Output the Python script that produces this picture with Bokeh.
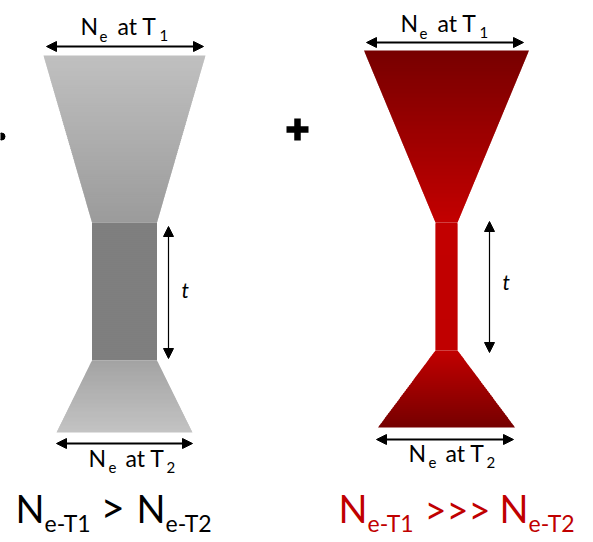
import numpy as np
from bokeh.plotting import figure
from bokeh.models import Range1d, Arrow, NormalHead, ColumnDataSource
from bokeh.core.properties import value
from bokeh.embed import file_html
from bokeh.resources import INLINE

# ---------------- data ----------------
# Two population histories: effective size (width) through time (top -> bottom)
pop_names = ["moderate bottleneck", "severe bottleneck"]
pop_center_x = [124, 446]
grey_level_y = [55, 222, 360, 432]      # T1, start of bottleneck, end of bottleneck, T2
grey_width = [162, 65, 65, 136]         # Ne at each level
red_level_y = [50, 222, 350, 427]
red_width = [165, 22, 22, 137]
grey_colors = [("#c0c0c0", "#9b9b9b"), ("#7f7f7f", "#7f7f7f"), ("#a3a3a3", "#c3c3c3")]
red_colors = [("#770000", "#c30000"), ("#c20000", "#c00000"), ("#c20000", "#760000")]

top_label = ["N", "e", "at T", "1"]
bottom_label = ["N", "e", "at T", "2"]
eq_left = ["N", "e-T1", ">", "N", "e-T2"]
eq_right = ["N", "e-T1", ">>>", "N", "e-T2"]

FONT = "Lato"
SHIFT = 0.42   # baseline correction, in em


def hex2rgb(h):
    h = h.lstrip("#")
    return np.array([int(h[i:i + 2], 16) for i in (0, 2, 4)], dtype=float)


def mix(c0, c1, f):
    a, b = hex2rgb(c0), hex2rgb(c1)
    r = a + (b - a) * f
    return "#%02x%02x%02x" % tuple(int(round(v)) for v in r)


def strips(cx, levels, widths, colors):
    xs, ys, cols = [], [], []
    for k in range(len(levels) - 1):
        y0, y1 = levels[k], levels[k + 1]
        w0, w1 = widths[k], widths[k + 1]
        n = max(2, int(abs(y1 - y0) / 2))
        for i in range(n):
            fa, fb = i / n, (i + 1) / n
            ya, yb = y0 + (y1 - y0) * fa, y0 + (y1 - y0) * fb
            if i < n - 1:
                yb_draw = yb + 1.0
                wb_draw = w0 + (w1 - w0) * min(1.0, fb + 1.0 / abs(y1 - y0))
            else:
                yb_draw = yb
                wb_draw = w0 + (w1 - w0) * fb
            wa = w0 + (w1 - w0) * fa
            xs.append([cx - wa / 2, cx + wa / 2, cx + wb_draw / 2, cx - wb_draw / 2])
            ys.append([ya, ya, yb_draw, yb_draw])
            cols.append(mix(colors[k][0], colors[k][1], (fa + fb) / 2))
    return xs, ys, cols


W, H = 593, 542
p = figure(width=W, height=H, output_backend="svg", toolbar_location=None,
           x_range=Range1d(0, W), y_range=Range1d(H, 0), min_border=0)
p.axis.visible = False
p.grid.visible = False
p.outline_line_color = None
p.background_fill_color = "white"
p.border_fill_color = "white"

for cx, lv, wd, cl in [(pop_center_x[0], grey_level_y, grey_width, grey_colors),
                       (pop_center_x[1], red_level_y, red_width, red_colors)]:
    xs, ys, cols = strips(cx, lv, wd, cl)
    src = ColumnDataSource(dict(xs=xs, ys=ys, c=cols))
    p.patches("xs", "ys", source=src, fill_color="c", line_color=None)

# plus sign and bullet dot
p.segment(x0=[286, 297], y0=[129, 118], x1=[308, 297], y1=[129, 140],
          line_color="black", line_width=6.5, line_cap="butt")
p.scatter(x=[1], y=[136], size=7, color="black")


def add_arrow(x0, y0, x1, y1, lw, hs):
    p.add_layout(Arrow(
        start=NormalHead(size=hs, fill_color="black", line_color="black", line_width=1),
        end=NormalHead(size=hs, fill_color="black", line_color="black", line_width=1),
        x_start=x0, y_start=y0, x_end=x1, y_end=y1,
        line_color="black", line_width=lw))


add_arrow(46, 46, 203, 46, 1.8, 10)
add_arrow(366, 42, 523, 42, 1.8, 10)
add_arrow(56, 443, 192, 443, 1.8, 10)
add_arrow(376, 439, 513, 439, 1.8, 10)
add_arrow(168, 226, 168, 358, 1.2, 10)
add_arrow(489, 221, 489, 352, 1.2, 10)

# text runs: x, baseline y, text, size(px), color
runs = []
for (dx, dy) in [(0, 0), (320, -3)]:
    xs_ = [80, 99, 117, 159]
    ys_ = [35, 42, 35, 41]
    szs = [23, 15, 23, 15]
    for t, x, y, s in zip(top_label, xs_, ys_, szs):
        runs.append((x + dx, y + dy, t, s, "black"))
for (bx, by) in [(88, 467), (408, 462)]:
    offs = [(0, 0), (20, 6), (37, 0), (78, 6)]
    szs = [23, 15, 23, 15]
    for t, (ox, oy), s in zip(bottom_label, offs, szs):
        runs.append((bx + ox, by + oy, t, s, "black"))
for t, x, y, s in zip(eq_left, [15, 44, 100, 136, 165], [523, 532, 524, 523, 532],
                      [38, 23, 42, 38, 23]):
    runs.append((x, y, t, s, "black"))
for t, x, y, s in zip(eq_right, [338, 367, 424, 499, 528], [523, 532, 524, 523, 532],
                      [38, 23, 38, 38, 23]):
    runs.append((x, y, t, s, "#c00000"))

tsrc = ColumnDataSource(dict(x=[r[0] for r in runs],
                             y=[r[1] - SHIFT * r[3] for r in runs],
                             t=[r[2] for r in runs],
                             s=["%dpx" % r[3] for r in runs],
                             c=[r[4] for r in runs]))
p.text(x="x", y="y", text="t", text_font_size="s", text_color="c", source=tsrc,
       text_font=value(FONT), text_align="left", text_baseline="alphabetic")

p.text(x=[181, 502], y=[298 - SHIFT * 21, 290 - SHIFT * 21], text=["t", "t"],
       text_font=value(FONT), text_font_style="italic", text_font_size=value("21px"),
       text_color="black", text_align="left", text_baseline="alphabetic")

open("out.html", "w").write(file_html(p, INLINE))
